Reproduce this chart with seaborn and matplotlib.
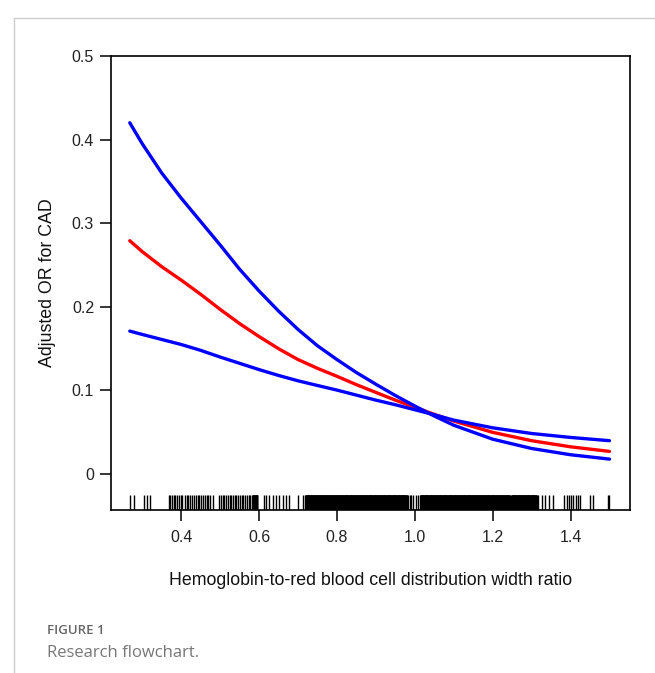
import numpy as np
import pandas as pd
import matplotlib
matplotlib.use("Agg")
import matplotlib.pyplot as plt
from matplotlib.lines import Line2D
import seaborn as sns

# values (HB/RDW ratio vs adjusted OR)
hrr = [0.268, 0.3, 0.35, 0.4, 0.45, 0.5, 0.55, 0.6, 0.65, 0.7, 0.75, 0.8, 0.85, 0.9, 0.95,
       1.0, 1.05, 1.1, 1.2, 1.3, 1.4, 1.5]
or_fit = [0.279, 0.266, 0.248, 0.232, 0.215, 0.197, 0.180, 0.1645, 0.150, 0.137, 0.1265, 0.117,
          0.107, 0.0977, 0.0885, 0.080, 0.0715, 0.0635, 0.050, 0.040, 0.0327, 0.0272]
# the two blue bands cross near 1.05: "steep" starts on top, ends at the bottom
ci_steep = [0.420, 0.395, 0.360, 0.330, 0.302, 0.274, 0.245, 0.219, 0.195, 0.173, 0.1535, 0.137,
            0.1215, 0.1075, 0.094, 0.0815, 0.0695, 0.0585, 0.0418, 0.0307, 0.0232, 0.0180]
ci_flat = [0.171, 0.167, 0.161, 0.155, 0.148, 0.140, 0.1325, 0.125, 0.118, 0.1116, 0.106, 0.1005,
           0.0945, 0.0885, 0.083, 0.077, 0.071, 0.0646, 0.0554, 0.0486, 0.0439, 0.0400]

# rug of observed ratios
rug_sparse = [0.268, 0.278, 0.304, 0.311, 0.319,
              0.368, 0.372, 0.376, 0.381, 0.385, 0.39, 0.394, 0.399, 0.403, 0.409,
              0.414, 0.418, 0.423, 0.427, 0.433, 0.437, 0.442, 0.447, 0.452, 0.456,
              0.461, 0.466, 0.47, 0.475, 0.481, 0.498, 0.503, 0.507, 0.511, 0.516,
              0.52, 0.525, 0.529, 0.534, 0.538, 0.542, 0.547, 0.551, 0.555, 0.56,
              0.564, 0.568, 0.573, 0.577, 0.581,
              0.612, 0.618, 0.625, 0.637, 0.644, 0.652, 0.661, 0.67, 0.678, 0.699, 0.712,
              0.983, 0.987, 0.991, 0.995, 1.002, 1.008,
              1.317, 1.326, 1.334, 1.345, 1.354,
              1.383, 1.39, 1.396, 1.401, 1.407, 1.413, 1.418, 1.424,
              1.449, 1.458, 1.496, 1.5]
rug_dense = [(0.584, 0.596), (0.719, 0.98), (1.014, 1.244), (1.248, 1.313)]

yticks = [0, 0.1, 0.2, 0.3, 0.4, 0.5]
ytick_labels = ["0", "0.1", "0.2", "0.3", "0.4", "0.5"]
xticks = [0.4, 0.6, 0.8, 1.0, 1.2, 1.4]
xtick_labels = ["0.4", "0.6", "0.8", "1.0", "1.2", "1.4"]

sns.set_style("white")
plt.rcParams['font.family'] = ['Liberation Sans', 'DejaVu Sans']

fig = plt.figure(figsize=(6.55, 6.73), dpi=100)
ax = fig.add_axes([0.169, 0.242, 0.793, 0.675])

sns.lineplot(x=hrr, y=or_fit, color="#ff0000", lw=2.4, ax=ax)
sns.lineplot(x=hrr, y=ci_steep, color="#0000ff", lw=2.4, ax=ax)
sns.lineplot(x=hrr, y=ci_flat, color="#0000ff", lw=2.4, ax=ax)

dense_vals = np.concatenate([np.arange(a, b, 0.0008) for a, b in rug_dense])
sns.rugplot(x=rug_sparse, height=0.033, color="black", lw=0.7, ax=ax)
sns.rugplot(x=dense_vals, height=0.033, color="black", lw=0.7, ax=ax)

ax.set_xlim(0.219, 1.553)
ax.set_ylim(-0.043, 0.5)
ax.set_xticks(xticks)
ax.set_xticklabels(xtick_labels)
ax.set_yticks(yticks)
ax.set_yticklabels(ytick_labels)
ax.tick_params(axis="both", direction="out", length=8, width=1.1, color="black",
               labelsize=11.5, labelcolor="#222222", pad=4, left=True, bottom=True)
ax.tick_params(axis="x", pad=6)
for sp in ax.spines.values():
    sp.set_color("black")
    sp.set_linewidth(1.2)

ax.set_xlabel("Hemoglobin-to-red blood cell distribution width ratio", fontsize=12.8,
              color="#111111", labelpad=20)
ax.set_ylabel("Adjusted OR for CAD", fontsize=12.8, color="#111111", labelpad=11)

# page frame and caption
fig.add_artist(Line2D([14 / 655, 1], [1 - 18 / 673, 1 - 18 / 673], color="#cccccc", lw=1))
fig.add_artist(Line2D([14 / 655, 14 / 655], [0, 1 - 18 / 673], color="#cccccc", lw=1))
fig.text(47 / 655, 1 - 631 / 673, "FIGURE 1", fontsize=9.5, color="#666666",
         family=["Open Sans", "DejaVu Sans"], fontweight="semibold", va="center")
fig.text(47 / 655, 1 - 653 / 673, "Research flowchart.", fontsize=12, color="#777777",
         family=["Open Sans", "DejaVu Sans"], va="center")

fig.savefig("out.png", dpi=100)
